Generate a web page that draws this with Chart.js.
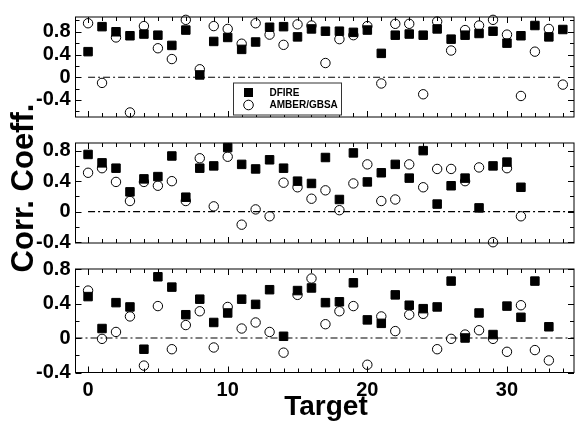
<!DOCTYPE html>
<html>
<head>
<meta charset="utf-8">
<script src="https://cdn.jsdelivr.net/npm/chart.js@4.4.1/dist/chart.umd.min.js"></script>
<style>
  html, body { margin: 0; padding: 0; background: #fff; }
  #wrap { position: relative; width: 581px; height: 424px; overflow: hidden; font-family: "Liberation Sans", Arial, sans-serif; }
  #wrap canvas { position: absolute; left: 0; }
  #yTitle { position: absolute; left: -87px; top: 168px; width: 220px; height: 40px; line-height: 40px;
            text-align: center; font-size: 31px; font-weight: bold; transform: rotate(-90deg); }
  #xTitle { position: absolute; left: 226px; top: 392px; width: 200px; line-height: 28px;
            text-align: center; font-size: 28px; font-weight: bold; }
</style>
</head>
<body>
<div id="wrap">
  <canvas id="panel1"></canvas>
  <canvas id="panel2"></canvas>
  <canvas id="panel3"></canvas>
  <div id="yTitle">Corr. Coeff.</div>
  <div id="xTitle">Target</div>
</div>
<script>
// ============================================
// DATA
// ============================================

const targetIds = [0, 1, 2, 3, 4, 5, 6, 7, 8, 9, 10, 11, 12, 13, 14, 15, 16, 17,
                   18, 19, 20, 21, 22, 23, 24, 25, 26, 27, 28, 29, 30, 31, 32, 33, 34];
const seriesNames = ['DFIRE', 'AMBER/GBSA'];

// top panel
const topDfire = [0.45, 0.89, 0.80, 0.73, 0.76, 0.74, 0.56, 0.83, 0.04, 0.63, 0.70, 0.49,
                  0.62, 0.88, 0.89, 0.71, 0.85, 0.81, 0.81, 0.79, 0.83, 0.42, 0.74, 0.76,
                  0.74, 0.85, 0.67, 0.74, 0.77, 0.81, 0.60, 0.73, 0.91, 0.71, 0.84];
const topAmber = [0.95, -0.10, 0.70, -0.62, 0.90, 0.51, 0.32, 1.01, 0.14, 0.90, 0.85, 0.59,
                  0.95, 0.75, 0.57, 0.93, 0.91, 0.25, 0.67, 0.74, 0.90, -0.11, 0.94, 0.94,
                  -0.30, 0.98, 0.47, 0.83, 0.91, 1.01, 0.75, -0.33, 0.45, 0.85, -0.13];

// middle panel
const midDfire = [0.75, 0.64, 0.57, 0.26, 0.43, 0.46, 0.73, 0.19, 0.57, 0.60, 0.84, 0.62,
                  0.56, 0.68, 0.57, 0.40, 0.37, 0.71, 0.16, 0.77, 0.39, 0.51, 0.62, 0.44,
                  0.80, 0.10, 0.34, 0.44, 0.05, 0.60, 0.65, 0.32];
const midAmber = [0.51, 0.57, 0.39, 0.14, 0.39, 0.34, 0.40, 0.14, 0.70, 0.07, 0.72, -0.17,
                  0.03, -0.06, 0.38, 0.32, 0.17, 0.28, 0.02, 0.37, 0.62, 0.14, 0.16, 0.62,
                  0.32, 0.56, 0.56, 0.40, 0.58, -0.40, 0.57, -0.06];

// bottom panel
const botDfire = [0.48, 0.11, 0.41, 0.36, -0.13, 0.71, 0.59, 0.27, 0.45, 0.18, 0.29, 0.45,
                  0.39, 0.56, 0.02, 0.55, 0.58, 0.41, 0.42, 0.64, 0.21, 0.17, 0.50, 0.38,
                  0.34, 0.36, 0.66, 0.00, 0.29, 0.04, 0.37, 0.24, 0.66, 0.13];
const botAmber = [0.55, -0.01, 0.07, 0.25, -0.32, 0.37, -0.13, 0.15, 0.31, -0.11, 0.36, 0.11,
                  0.18, 0.07, -0.17, 0.50, 0.69, 0.16, 0.31, 0.37, -0.31, 0.25, 0.08, 0.27,
                  0.28, -0.13, -0.01, 0.04, 0.09, -0.01, -0.16, 0.38, -0.14, -0.26];

// axes
const xRange = [-0.9, 34.8];
const xTickLabels = [0, 10, 20, 30];
const yTickLabels = [-0.4, 0, 0.4, 0.8];
const topYRange = [-0.7, 1.06];
const midYRange = [-0.41, 0.9];
const botYRange = [-0.4, 0.8];

// extent of the dash-dot zero line in each panel
const topZeroSpan = [0, 34];
const midZeroSpan = [0, 34.8];
const botZeroSpan = [-0.9, 34.8];

// ============================================
// HELPERS / PLUGINS
// ============================================

const FONT = '"Liberation Sans", Arial, sans-serif';

function toPoints(vals) {
    return vals.map((v, i) => ({ x: targetIds[i], y: v }));
}

// frame + inward tick marks on all four sides (Grace-like)
const frameTicks = {
    id: 'frameTicks',
    beforeDatasetsDraw(chart) {
        const { ctx, chartArea: a, scales: { x, y } } = chart;
        ctx.save();
        ctx.strokeStyle = '#000';
        ctx.lineWidth = 1;
        ctx.strokeRect(a.left, a.top, a.right - a.left, a.bottom - a.top);
        ctx.beginPath();
        for (let v = Math.ceil(x.min); v <= x.max; v++) {
            const px = Math.round(x.getPixelForValue(v)) + 0.5;
            const len = v % 10 === 0 ? 6 : 4;
            ctx.moveTo(px, a.bottom); ctx.lineTo(px, a.bottom - len);
            ctx.moveTo(px, a.top); ctx.lineTo(px, a.top + len);
        }
        for (let i = Math.ceil(y.min / 0.2 - 1e-6); i * 0.2 <= y.max + 1e-6; i++) {
            const py = Math.round(y.getPixelForValue(i * 0.2)) + 0.5;
            const len = i % 2 === 0 ? 6 : 4;
            ctx.moveTo(a.left, py); ctx.lineTo(a.left + len, py);
            ctx.moveTo(a.right, py); ctx.lineTo(a.right - len, py);
        }
        ctx.stroke();
        ctx.restore();
    }
};

// boxed legend inside the top panel
const boxLegend = {
    id: 'boxLegend',
    afterDatasetsDraw(chart) {
        const { ctx, chartArea: a } = chart;
        const left = a.left + 158, top = a.top + 66, w = 108, h = 32;
        ctx.save();
        ctx.fillStyle = '#fff';
        ctx.fillRect(left, top, w, h);
        ctx.strokeStyle = '#333';
        ctx.lineWidth = 1;
        ctx.strokeRect(left, top, w, h);
        ctx.font = 'bold 10px ' + FONT;
        ctx.textBaseline = 'middle';
        chart.data.datasets.slice(0, 2).forEach((ds, i) => {
            const cy = top + 9.5 + i * 12.5, cx = left + 15;
            ctx.beginPath();
            if (ds.pointStyle === 'rect') {
                ctx.fillStyle = '#000';
                ctx.fillRect(cx - 4.5, cy - 4.5, 9, 9);
            } else {
                ctx.strokeStyle = '#000';
                ctx.arc(cx, cy, 4.8, 0, Math.PI * 2);
                ctx.stroke();
            }
            ctx.fillStyle = '#000';
            ctx.fillText(ds.label, left + 36, cy + 0.5);
        });
        ctx.restore();
    }
};

function makePanel(canvasId, geo, dfire, amber, yRange, zeroSpan, showX, extraPlugins) {
    const canvas = document.getElementById(canvasId);
    canvas.width = 581;
    canvas.height = geo.height;
    canvas.style.top = geo.canvasTop + 'px';

    return new Chart(canvas.getContext('2d'), {
        type: 'scatter',
        data: {
            datasets: [{
                label: seriesNames[0],
                data: toPoints(dfire),
                pointStyle: 'rect',
                pointRadius: 6,
                backgroundColor: '#000',
                borderColor: '#000',
                borderWidth: 1,
                clip: false
            }, {
                label: seriesNames[1],
                data: toPoints(amber),
                pointStyle: 'circle',
                pointRadius: 4.7,
                backgroundColor: 'rgba(0,0,0,0)',
                borderColor: '#000',
                borderWidth: 1,
                clip: false
            }, {
                label: 'zero',
                data: zeroSpan.map(v => ({ x: v, y: 0 })),
                showLine: true,
                pointRadius: 0,
                borderColor: '#000',
                borderWidth: 1.2,
                borderDash: [7, 3, 2, 3]
            }]
        },
        options: {
            responsive: false,
            animation: false,
            events: [],
            layout: { padding: { top: geo.padTop, right: 3, bottom: geo.padBottom, left: 0 } },
            plugins: { legend: { display: false }, tooltip: { enabled: false } },
            scales: {
                x: {
                    type: 'linear',
                    display: showX,
                    min: xRange[0],
                    max: xRange[1],
                    afterBuildTicks: s => { s.ticks = xTickLabels.map(v => ({ value: v })); },
                    afterFit: s => { s.height = showX ? 28 : 0; },
                    grid: { display: false, drawTicks: false },
                    border: { display: false },
                    ticks: {
                        color: '#000',
                        padding: 6,
                        maxRotation: 0,
                        autoSkip: false,
                        font: { family: FONT, size: 20, weight: 'bold' },
                        callback: v => String(v)
                    }
                },
                y: {
                    type: 'linear',
                    min: yRange[0],
                    max: yRange[1],
                    afterBuildTicks: s => { s.ticks = yTickLabels.map(v => ({ value: v })); },
                    afterFit: s => { s.width = 75.5; },
                    grid: { display: false, drawTicks: false },
                    border: { display: false },
                    ticks: {
                        color: '#000',
                        padding: 5,
                        autoSkip: false,
                        font: { family: FONT, size: 20, weight: 'bold' },
                        callback: v => String(v)
                    }
                }
            }
        },
        plugins: [frameTicks].concat(extraPlugins || [])
    });
}

// ============================================
// INITIALIZATION
// ============================================

// chart area of each panel: top 14.5/140.5/266.5, bottom 119.5/246.5/372.5
makePanel('panel1', { canvasTop: 0, height: 134, padTop: 14.5, padBottom: 14.5 },
          topDfire, topAmber, topYRange, topZeroSpan, false, [boxLegend]);
makePanel('panel2', { canvasTop: 126, height: 134, padTop: 14.5, padBottom: 13.5 },
          midDfire, midAmber, midYRange, midZeroSpan, false);
makePanel('panel3', { canvasTop: 252, height: 152, padTop: 14.5, padBottom: 3.5 },
          botDfire, botAmber, botYRange, botZeroSpan, true);
</script>
</body>
</html>
